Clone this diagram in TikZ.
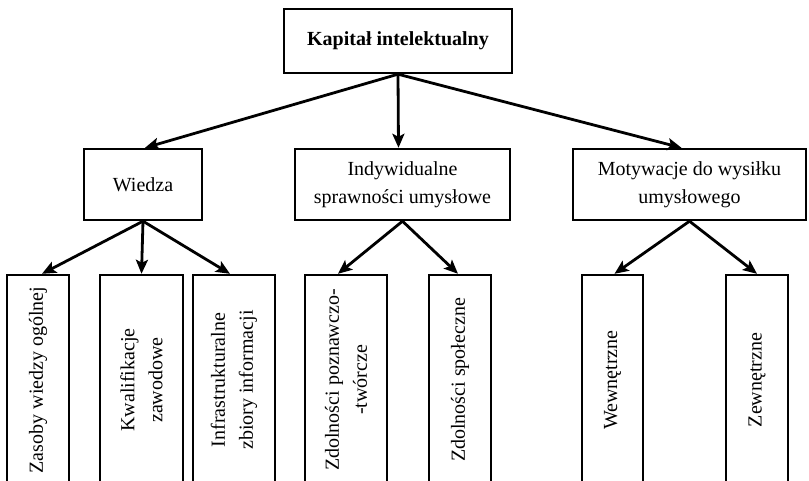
\documentclass[tikz,border=0pt]{standalone}
\usepackage{fontspec}
\setmainfont{Liberation Serif}
\usetikzlibrary{arrows.meta}
\begin{document}
\begin{tikzpicture}[x=1pt, y=-1pt,
    box/.style={
      draw, line width=2.4pt, align=center, inner sep=2pt,
      font=\fontsize{20}{28}\selectfont, minimum height=71
    },
    topbox/.style={box, font=\fontsize{20}{28}\selectfont\bfseries},
    leaf/.style={box, rotate=90, minimum width=210},
    arr/.style={-{Stealth[length=14pt, width=12pt, inset=3pt]}, line width=2.8pt},
  ]
  \useasboundingbox (0,0) rectangle (809,481);
  \clip (0,0) rectangle (809,481);

  % --- Top ---
  \node[topbox, minimum width=228, minimum height=64] (kap) at (398,41) {Kapitał intelektualny};

  % --- Level 2 ---
  \node[box, minimum width=118] (wie) at (143,184.5) {Wiedza};
  \node[box, minimum width=215] (ind) at (402.5,184.5) {Indywidualne\\sprawności umysłowe};
  \node[box, minimum width=233] (mot) at (689.5,184.5) {Motywacje do wysiłku\\umysłowego};

  % --- Leaves (run off the bottom edge) ---
  \node[leaf, minimum height=62] (zas) at (38,380) {Zasoby wiedzy ogólnej};
  \node[leaf, minimum height=83] (kwa) at (141.5,380) {Kwalifikacje\\zawodowe};
  \node[leaf, minimum height=82] (inf) at (234,380) {Infrastrukturalne\\zbiory informacji};
  \node[leaf, minimum height=82] (poz) at (346,380) {Zdolności poznawczo-\\-twórcze};
  \node[leaf, minimum height=62] (spo) at (460,380) {Zdolności społeczne};
  \node[leaf, minimum height=61] (wew) at (612.5,380) {Wewnętrzne};
  \node[leaf, minimum height=62] (zew) at (757,380) {Zewnętrzne};

  % Arrows (tips land slightly off centre, as in the original)
  \foreach \b/\dx in {wie/2, ind/-4, mot/-8} {
    \draw[arr] (kap.south) -- ([xshift=\dx]\b.north);
  }
  \foreach \a/\b/\dx in {wie/zas/4, wie/kwa/0, wie/inf/-4, ind/poz/-8, ind/spo/-2, mot/wew/2, mot/zew/0} {
    \draw[arr] (\a.south) -- ([xshift=\dx]\b.east);
  }
\end{tikzpicture}
\end{document}
